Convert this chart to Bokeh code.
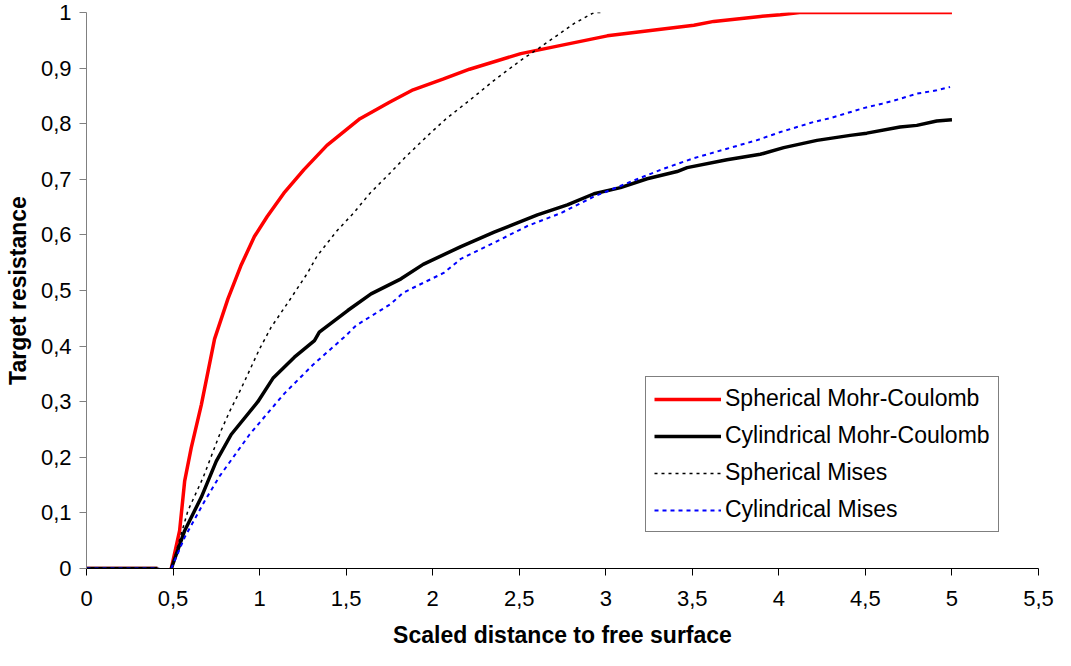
from bokeh.plotting import figure
from bokeh.models import Range1d, FixedTicker, Legend, LegendItem
from bokeh.embed import file_html
from bokeh.resources import INLINE

NaN = float("nan")

# Spherical Mohr-Coulomb
red_x = [0, 0.41, NaN, 0.49, 0.538, 0.567, 0.605, 0.663, 0.740, 0.817, 0.891, 0.97, 1.044,
         1.140, 1.255, 1.389, 1.580, 1.753, 1.887, 2.059, 2.213, 2.509, 3.009, 3.509,
         3.624, 3.893, 4.009, 4.12, 5.0]
red_y = [0, 0, NaN, 0, 0.068, 0.157, 0.217, 0.294, 0.413, 0.485, 0.544, 0.597, 0.633,
         0.675, 0.717, 0.761, 0.809, 0.839, 0.861, 0.880, 0.898, 0.926, 0.958, 0.977,
         0.984, 0.993, 0.996, 1.0, 1.0]

# Cylindrical Mohr-Coulomb
blk_x = [0, 0.41, NaN, 0.49, 0.567, 0.663, 0.75, 0.836, 0.990, 1.077, 1.201, 1.317, 1.345,
         1.509, 1.644, 1.817, 1.945, 2.163, 2.355, 2.605, 2.778, 2.932, 3.085, 3.239,
         3.412, 3.47, 3.70, 3.893, 4.028, 4.22, 4.412, 4.508, 4.70, 4.797, 4.912, 5.0]
blk_y = [0, 0, NaN, 0, 0.068, 0.128, 0.193, 0.241, 0.300, 0.342, 0.380, 0.410, 0.425,
         0.464, 0.494, 0.521, 0.547, 0.579, 0.605, 0.636, 0.654, 0.674, 0.685, 0.701,
         0.714, 0.721, 0.735, 0.745, 0.757, 0.770, 0.779, 0.783, 0.794, 0.797, 0.805, 0.807]

# Spherical Mises
smi_x = [0, 0.42, NaN, 0.49, 0.586, 0.673, 0.779, 0.826, 0.894, 1.0, 1.067, 1.172, 1.278,
         1.332, 1.446, 1.542, 1.638, 1.753, 1.849, 1.983, 2.078, 2.213, 2.355, 2.509,
         2.614, 2.72, 2.816, 2.932, 2.99]
smi_y = [0, 0, NaN, 0, 0.104, 0.163, 0.249, 0.282, 0.324, 0.395, 0.434, 0.482, 0.532,
         0.562, 0.607, 0.639, 0.675, 0.711, 0.742, 0.782, 0.809, 0.842, 0.878, 0.914,
         0.936, 0.959, 0.980, 1.0, 1.0]

# Cylindrical Mises
cmi_x = [0, 0.42, NaN, 0.49, 0.567, 0.682, 0.769, 0.942, 1.048, 1.144, 1.250, 1.307, 1.499,
         1.557, 1.759, 1.829, 2.066, 2.163, 2.355, 2.547, 2.739, 2.932, 3.124, 3.316,
         3.509, 3.70, 3.87, 4.009, 4.105, 4.2, 4.297, 4.393, 4.489, 4.595, 4.681, 4.797,
         4.912, 4.989]
cmi_y = [0, 0, NaN, 0, 0.056, 0.121, 0.166, 0.241, 0.280, 0.315, 0.348, 0.366, 0.419,
         0.437, 0.476, 0.496, 0.532, 0.557, 0.586, 0.616, 0.639, 0.669, 0.693, 0.717,
         0.738, 0.755, 0.770, 0.785, 0.794, 0.803, 0.810, 0.819, 0.828, 0.836, 0.843, 0.854,
         0.860, 0.866]

x_ticks = [0, 0.5, 1, 1.5, 2, 2.5, 3, 3.5, 4, 4.5, 5, 5.5]
x_labels = ["0", "0,5", "1", "1,5", "2", "2,5", "3", "3,5", "4", "4,5", "5", "5,5"]
y_ticks = [0, 0.1, 0.2, 0.3, 0.4, 0.5, 0.6, 0.7, 0.8, 0.9, 1.0]
y_labels = ["0", "0,1", "0,2", "0,3", "0,4", "0,5", "0,6", "0,7", "0,8", "0,9", "1"]

series_names = ["Spherical Mohr-Coulomb", "Cylindrical Mohr-Coulomb",
                "Spherical Mises", "Cylindrical Mises"]

FONT = "Liberation Sans"

p = figure(width=1055, height=650, output_backend="svg", toolbar_location=None,
           x_range=Range1d(0, 5.5), y_range=Range1d(0, 1),
           min_border_left=86, min_border_right=17, min_border_top=12, min_border_bottom=80)
p.outline_line_color = None
p.xgrid.visible = False
p.ygrid.visible = False
p.background_fill_color = "white"

r1 = p.line(red_x, red_y, line_color="#FF0000", line_width=3.5)
r2 = p.line(blk_x, blk_y, line_color="#000000", line_width=3.5)
r3 = p.line(smi_x, smi_y, line_color="#000000", line_width=1.5, line_dash="3 4")
r4 = p.line(cmi_x, cmi_y, line_color="#0000FF", line_width=2, line_dash="4 4")

xa = p.xaxis[0]
xa.ticker = FixedTicker(ticks=x_ticks)
xa.major_label_overrides = {t: l for t, l in zip(x_ticks, x_labels)}
xa.axis_label = "Scaled distance to free surface"
xa.axis_line_color = "black"
xa.major_tick_line_color = "black"
xa.major_tick_in = 0
xa.major_tick_out = 7
xa.minor_tick_line_color = None
xa.major_label_text_font = FONT
xa.major_label_text_font_size = "22px"
xa.major_label_text_color = "black"
xa.major_label_standoff = 15
xa.axis_label_text_font = FONT
xa.axis_label_text_font_size = "23px"
xa.axis_label_text_font_style = "bold"
xa.axis_label_text_color = "black"
xa.axis_label_standoff = 13

ya = p.yaxis[0]
ya.ticker = FixedTicker(ticks=y_ticks)
ya.major_label_overrides = {t: l for t, l in zip(y_ticks, y_labels)}
ya.axis_label = "Target resistance"
ya.axis_line_color = "#808080"
ya.major_tick_line_color = "#808080"
ya.major_tick_in = 0
ya.major_tick_out = 7
ya.minor_tick_line_color = None
ya.major_label_text_font = FONT
ya.major_label_text_font_size = "22px"
ya.major_label_text_color = "black"
ya.major_label_standoff = 8
ya.axis_label_text_font = FONT
ya.axis_label_text_font_size = "23px"
ya.axis_label_text_font_style = "bold"
ya.axis_label_text_color = "black"
ya.axis_label_standoff = 7

legend = Legend(items=[LegendItem(label=n, renderers=[r])
                       for n, r in zip(series_names, [r1, r2, r3, r4])],
                location=(559, 36), orientation="vertical")
legend.glyph_width = 67
legend.glyph_height = 20
legend.label_height = 20
legend.label_standoff = 4
legend.spacing = 10
legend.padding = 8
legend.margin = 0
legend.border_line_color = "black"
legend.border_line_width = 1
legend.background_fill_color = "white"
legend.background_fill_alpha = 1
legend.label_text_font = FONT
legend.label_text_font_size = "23px"
legend.label_text_color = "black"
p.add_layout(legend, "center")

open("out.html", "w").write(file_html(p, INLINE))
